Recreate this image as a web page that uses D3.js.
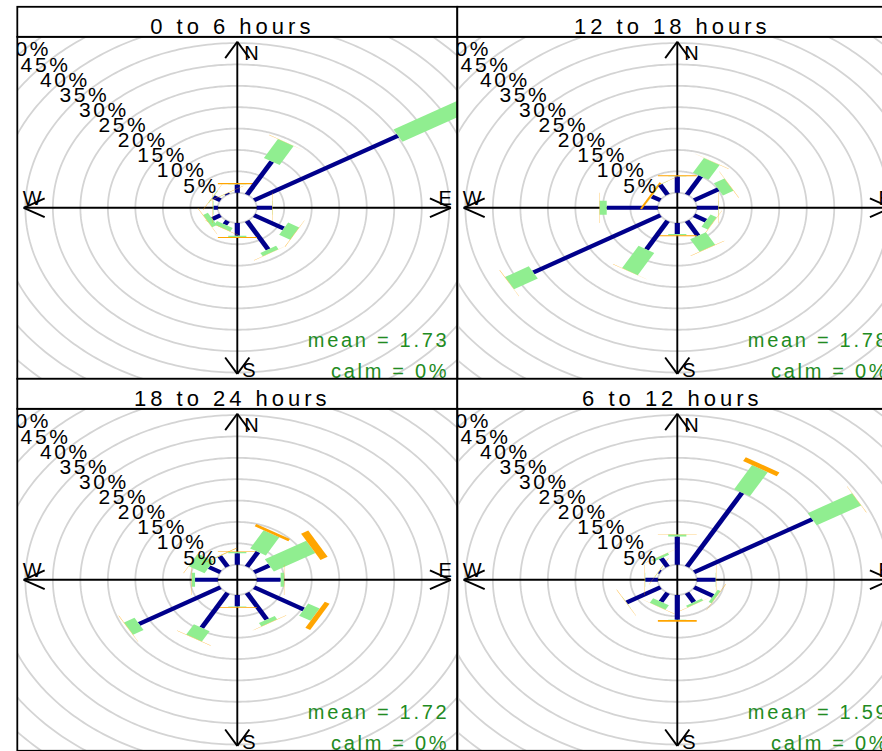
<!DOCTYPE html>
<html><head><meta charset="utf-8">
<script src="https://cdn.jsdelivr.net/npm/d3@7"></script>
<style>
body{margin:0;background:#fff;}
text{font-family:"Liberation Sans",Arial,Helvetica,sans-serif;}
</style></head>
<body><svg id="chart" width="882" height="751"></svg>
<script>
// ---------------- data ----------------
const directions = [0, 30, 60, 90, 120, 150, 180, 210, 240, 270, 300, 330];
const panelTitles = ["0 to 6 hours", "12 to 18 hours", "18 to 24 hours", "6 to 12 hours"];
const meanValues = ["1.73", "1.78", "1.72", "1.59"];
const calmValues = ["0", "0", "0", "0"];
const ringLabels = [5, 10, 15, 20, 25, 30, 35, 40, 45, 50];
const intervalColours = ["#00008B", "#90EE90", "#FFA500"];

// frequencies (%) per speed interval, by direction
const interval1_0to6   = [1.9, 9.0, 30.2, 2.8, 6.2, 7.7, 3.0, 1.0, 1.7, 0.8, 1.5, 0.3];
const interval2_0to6   = [0.1, 5.1, 21.0, 0.05, 2.3, 0.9, 0.3, 0.9, 1.0, 0.1, 0.1, 0.05];
const interval3_0to6   = [0.25, 0.05, 0.5, 0.05, 0.05, 0.05, 0.25, 0.05, 0.05, 0.05, 0.05, 0.05];

const interval1_12to18 = [3.8, 5.0, 5.1, 3.9, 2.5, 4.0, 2.6, 7.7, 26.7, 9.3, 1.8, 2.7];
const interval2_12to18 = [0.05, 4.0, 2.2, 0.05, 1.3, 3.4, 0.3, 6.0, 5.0, 1.3, 0.05, 0.05];
const interval3_12to18 = [0.25, 0.05, 0.05, 0.05, 0.05, 0.05, 0.2, 0.05, 0.05, 0.05, 0.4, 0.05];

const interval1_18to24 = [2.7, 4.0, 3.2, 4.35, 10.4, 7.2, 2.7, 9.4, 17.1, 4.15, 2.4, 2.85];
const interval2_18to24 = [0.3, 4.9, 8.7, 0.6, 2.4, 0.9, 0.15, 2.8, 2.2, 0.6, 3.3, 0.05];
const interval3_18to24 = [0.1, 0.6, 1.5, 0.05, 1.0, 0.05, 0.15, 0.05, 0.05, 0.05, 0.05, 0.1];

const interval1_6to12  = [6.6, 20.0, 24.8, 3.45, 4.0, 2.5, 5.8, 2.4, 7.1, 2.3, 0.3, 2.3];
const interval2_6to12  = [0.45, 6.5, 9.3, 0.05, 0.6, 0.5, 0.1, 1.2, 0.05, 0.05, 0.05, 0.5];
const interval3_6to12  = [0.1, 1.0, 0.05, 0.05, 0.05, 0.05, 0.4, 0.05, 0.05, 0.05, 0.05, 0.05];

const panelData = [
  [interval1_0to6, interval2_0to6, interval3_0to6],
  [interval1_12to18, interval2_12to18, interval3_12to18],
  [interval1_18to24, interval2_18to24, interval3_18to24],
  [interval1_6to12, interval2_6to12, interval3_6to12]
];

// ---------------- scale settings ----------------
const maxFreq = 35.3;
const offSet = maxFreq * 0.1;
const M = maxFreq + offSet;
const D = 1.03 * M;
const paddleWidths = [0.47, 1.65, offSet];

const svg = d3.select("#chart");
const layoutLeft = 17.3, layoutTop = 6.8, panelW = 440, panelH = 342, stripH = 30;

panelTitles.forEach((title, i) => {
  const col = i % 2, row = Math.floor(i / 2);
  const x0 = layoutLeft + col * panelW;
  const y0 = layoutTop + row * (panelH + stripH);
  const py0 = y0 + stripH;
  const x = d3.scaleLinear().domain([-D, D]).range([x0, x0 + panelW]);
  const y = d3.scaleLinear().domain([-D, D]).range([py0 + panelH, py0]);
  const g = svg.append("g");
  const clipId = "clip" + i;
  svg.append("clipPath").attr("id", clipId).append("rect")
    .attr("x", x0).attr("y", py0).attr("width", panelW).attr("height", panelH);
  const pg = g.append("g").attr("clip-path", `url(#${clipId})`);

  // grid rings
  const angles = d3.range(0, 361, 1).map(a => a * Math.PI / 180);
  const ringLine = d3.line().x(d => x(d[0])).y(d => y(d[1]));
  d3.range(0, 12).forEach(k => {
    const r = offSet + 5 * k;
    pg.append("path").attr("d", ringLine(angles.map(a => [r * Math.sin(a), r * Math.cos(a)])))
      .attr("fill", "none").attr("stroke", "#d4d4d4").attr("stroke-width", 1.8);
  });

  // axes with double arrows
  const L = 4.4, hs = L * Math.sin(Math.PI / 6), hc = L * Math.cos(Math.PI / 6);
  const axisSegs = [
    [[-M, 0], [M, 0]], [[0, -M], [0, M]],
    [[M, 0], [M - hc, hs]], [[M, 0], [M - hc, -hs]],
    [[-M, 0], [-M + hc, hs]], [[-M, 0], [-M + hc, -hs]],
    [[0, M], [hs, M - hc]], [[0, M], [-hs, M - hc]],
    [[0, -M], [hs, -M + hc]], [[0, -M], [-hs, -M + hc]]
  ];
  axisSegs.forEach(s => {
    pg.append("line").attr("x1", x(s[0][0])).attr("y1", y(s[0][1]))
      .attr("x2", x(s[1][0])).attr("y2", y(s[1][1]))
      .attr("stroke", "#000").attr("stroke-width", 1.9);
  });

  // paddles
  const data = panelData[i];
  directions.forEach((wd, di) => {
    const th = wd * Math.PI / 180;
    let cum = 0;
    data.forEach((series, j) => {
      const len1 = cum + offSet;
      cum += series[di];
      const len2 = cum + offSet;
      const w = paddleWidths[j];
      const s = Math.sin(th), c = Math.cos(th);
      const pts = [
        [len1 * s - w * c, len1 * c + w * s],
        [len1 * s + w * c, len1 * c - w * s],
        [len2 * s + w * c, len2 * c - w * s],
        [len2 * s - w * c, len2 * c + w * s]
      ];
      pg.append("polygon").attr("points", pts.map(p => x(p[0]) + "," + y(p[1])).join(" "))
        .attr("fill", intervalColours[j]);
    });
  });

  // percentage labels along 315 degrees
  const ang = 315 * Math.PI / 180;
  ringLabels.forEach(v => {
    const r = v + offSet;
    pg.append("text").attr("x", x(r * Math.sin(ang)) - 3).attr("y", y(r * Math.cos(ang)) + 10.5)
      .attr("text-anchor", "middle").attr("font-size", 21).style("letter-spacing", "2.6px")
      .attr("fill", "#000").text(v + "%");
  });

  // compass letters
  const cx = x(0), cy = y(0);
  pg.append("text").attr("x", cx + 7).attr("y", y(M) + 18).attr("font-size", 20).text("N");
  pg.append("text").attr("x", cx + 5).attr("y", y(-M) + 3.5).attr("font-size", 20).text("S");
  pg.append("text").attr("x", x(-M) - 1).attr("y", cy - 2.5).attr("font-size", 20).text("W");
  pg.append("text").attr("x", x(M) + 1).attr("y", cy - 2.5).attr("text-anchor", "end").attr("font-size", 20).text("E");

  // mean / calm
  pg.append("text").attr("x", cx + 212).attr("y", cy + 139).attr("text-anchor", "end")
    .attr("font-size", 20).style("letter-spacing", "2.7px").attr("fill", "#228B22")
    .text("mean = " + meanValues[i]);
  pg.append("text").attr("x", cx + 212).attr("y", cy + 170).attr("text-anchor", "end")
    .attr("font-size", 20).style("letter-spacing", "2.7px").attr("fill", "#228B22")
    .text("calm = " + calmValues[i] + "%");

  // panel border
  g.append("rect").attr("x", x0).attr("y", py0).attr("width", panelW).attr("height", panelH)
    .attr("fill", "none").attr("stroke", "#000").attr("stroke-width", 1.8);
  // strip
  g.append("rect").attr("x", x0).attr("y", y0).attr("width", panelW).attr("height", stripH)
    .attr("fill", "#fff").attr("stroke", "#000").attr("stroke-width", 1.8);
  g.append("text").attr("x", x0 + panelW / 2 - 5).attr("y", y0 + stripH - 2.5)
    .attr("text-anchor", "middle").attr("font-size", 22).style("letter-spacing", "4px")
    .text(title);
});
</script></body></html>
